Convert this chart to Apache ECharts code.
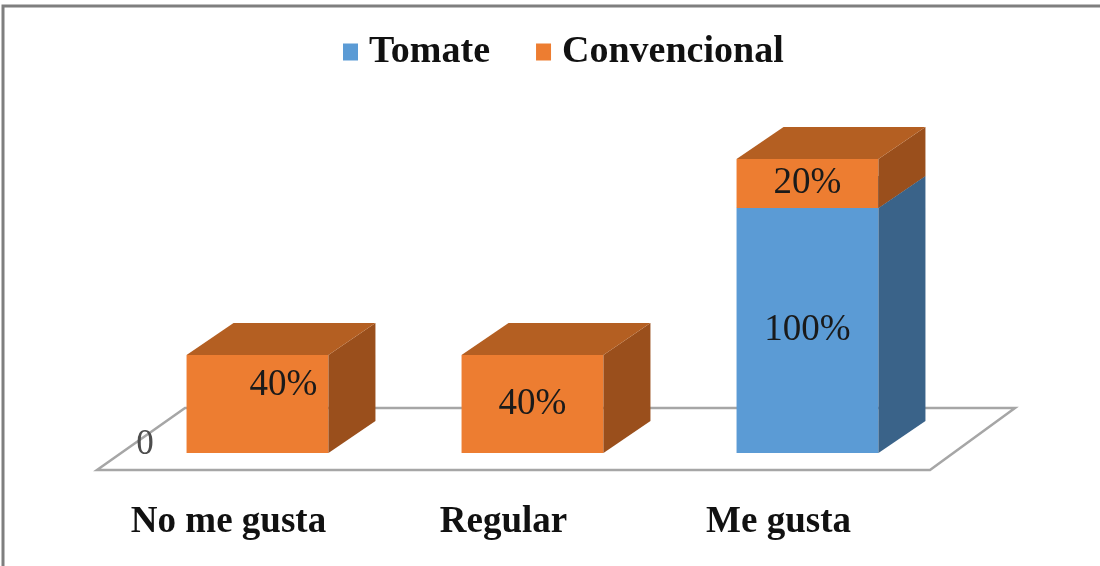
<!DOCTYPE html>
<html>
<head>
<meta charset="utf-8">
<script src="https://cdn.jsdelivr.net/npm/echarts@6/dist/echarts.min.js"></script>
<style>
html, body { margin: 0; padding: 0; background: #fff; }
#chart { width: 1100px; height: 566px; }
</style>
</head>
<body>
<div id="chart"></div>
<script>
var categories = ['No me gusta', 'Regular', 'Me gusta'];
var tomate = [0, 0, 100];
var convencional = [40, 40, 20];
var valueTicks = [0];

var DX = 47, DY = -32;   // bar depth
var serif = '"Liberation Serif", "Times New Roman", serif';

function boxItem(colors, shift) {
    return function (params, api) {
        var idx = api.value(0);
        var val = api.value(1);
        var base = api.value(2);
        if (!val) return null;
        var p0 = api.coord([idx, base]);
        var p1 = api.coord([idx, base + val]);
        var w = api.size([1, 0])[0] * 0.516;
        var x0 = p0[0] - w / 2, x1 = p0[0] + w / 2;
        var yb = p0[1], yt = p1[1];
        var s = shift(idx);
        return {
            type: 'group',
            children: [
                { type: 'rect', shape: { x: x0, y: yt, width: w, height: yb - yt }, style: { fill: colors[0] } },
                { type: 'polygon', shape: { points: [[x1, yb], [x1 + DX, yb + DY], [x1 + DX, yt + DY], [x1, yt]] }, style: { fill: colors[1] } },
                { type: 'polygon', shape: { points: [[x0, yt], [x0 + DX, yt + DY], [x1 + DX, yt + DY], [x1, yt]] }, style: { fill: colors[2] } },
                {
                    type: 'text', z2: 10,
                    style: {
                        x: p0[0] + s[0], y: (yb + yt) / 2 + s[1], text: val + '%',
                        fill: '#1a1a1a', font: '37px ' + serif, align: 'center', verticalAlign: 'middle'
                    }
                }
            ]
        };
    };
}

function floorItem(params, api) {
    var band = api.size([1, 0])[0];
    var a = api.coord([0, 0]);
    var b = api.coord([categories.length - 1, 0]);
    var l = a[0] - band / 2, r = b[0] + band / 2, y = a[1];
    var fl = [l - 23, y + 17], fr = [r - 15, y + 17];
    var bl = [l + 65, y - 45], br = [r + 70, y - 45];
    return {
        type: 'group',
        children: [
            { type: 'polygon', shape: { points: [fl, fr, br, bl] }, style: { fill: '#fff', stroke: '#a6a6a6', lineWidth: 2.5 } },
            {
                type: 'text',
                style: {
                    x: (fl[0] + bl[0]) / 2 + 4, y: (fl[1] + bl[1]) / 2 + 6, text: String(valueTicks[0]),
                    fill: '#4d4d4d', font: '35px ' + serif, align: 'center', verticalAlign: 'middle'
                }
            }
        ]
    };
}

var chartDom = document.getElementById('chart');
var myChart = echarts.init(chartDom);
var option;

option = {
    animation: false,
    backgroundColor: '#fff',
    graphic: [{
        type: 'rect', shape: { x: 3, y: 6, width: 1200, height: 1000 },
        style: { fill: 'none', stroke: '#7f7f7f', lineWidth: 3 }, silent: true
    }],
    legend: {
        left: 338,
        top: 28,
        itemWidth: 15,
        itemHeight: 17,
        itemGap: 46,
        icon: 'rect',
        data: ['Tomate', 'Convencional'],
        textStyle: { fontFamily: serif, fontWeight: 'bold', fontSize: 38, color: '#111', padding: [0, 0, 0, 6] }
    },
    grid: { left: 120, right: 155, top: 110, bottom: 113 },
    xAxis: {
        type: 'category',
        data: categories,
        axisLine: { show: false },
        axisTick: { show: false },
        axisLabel: {
            margin: 51,
            padding: [0, 58, 0, 0],
            fontFamily: serif, fontWeight: 'bold', fontSize: 37, color: '#111'
        }
    },
    yAxis: {
        type: 'value', min: 0, max: 140,
        show: false
    },
    series: [
        {
            type: 'custom', name: 'floor', z: 1, silent: true,
            renderItem: floorItem,
            data: [[0, 0]],
            encode: { x: 0, y: 1 }
        },
        {
            type: 'custom', name: 'Tomate', z: 2,
            itemStyle: { color: '#5b9bd5' },
            renderItem: boxItem(['#5b9bd5', '#3a6389', '#41719c'], function () { return [0, 0]; }),
            data: tomate.map(function (v, i) { return [i, v, 0]; }),
            encode: { x: 0, y: 1 }
        },
        {
            type: 'custom', name: 'Convencional', z: 3,
            itemStyle: { color: '#ed7d31' },
            renderItem: boxItem(['#ed7d31', '#9a4f1c', '#b45f22'], function (i) { return i === 0 ? [26, -19] : [0, 0]; }),
            data: convencional.map(function (v, i) { return [i, v, tomate[i]]; }),
            encode: { x: 0, y: 1 }
        }
    ]
};

myChart.setOption(option);
</script>
</body>
</html>
